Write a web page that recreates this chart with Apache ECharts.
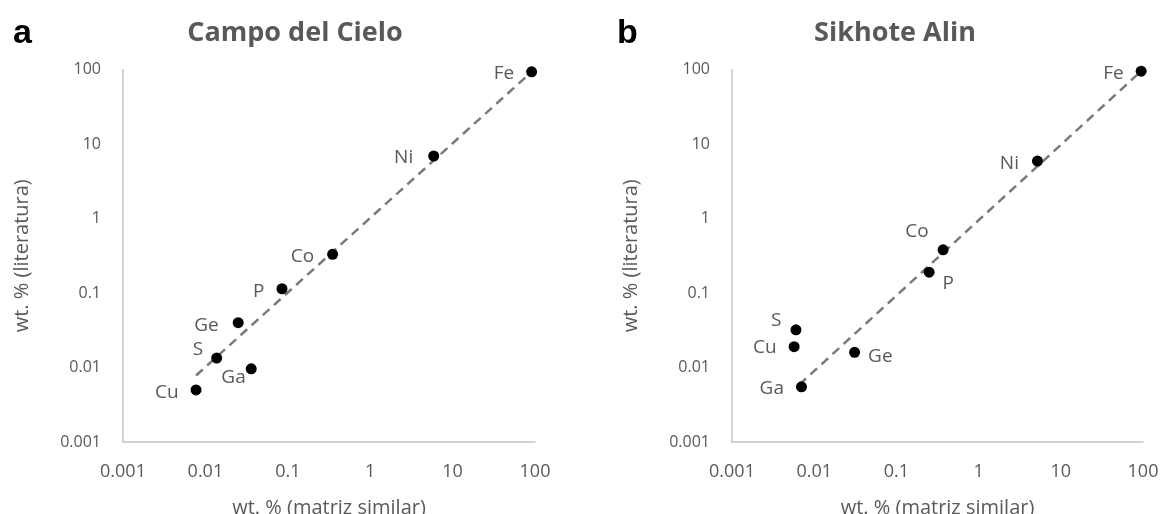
<!DOCTYPE html>
<html>
<head>
<meta charset="utf-8">
<script src="https://cdn.jsdelivr.net/npm/echarts@6/dist/echarts.min.js"></script>
<style>html,body{margin:0;padding:0;background:#fff;}#c{width:1163px;height:514px;}</style>
</head>
<body>
<div id="c"></div>
<script>
// ---- data ----
const elementsA = ['Fe', 'Ni', 'Co', 'P', 'Ge', 'S', 'Ga', 'Cu'];
const matrizA   = [91, 5.9, 0.35, 0.085, 0.025, 0.0137, 0.036, 0.0077];
const literA    = [93, 6.9, 0.33, 0.114, 0.040, 0.0134, 0.0096, 0.0050];
const trendA_x  = [0.0077, 91];
const trendA_y  = [0.0078, 93];

const elementsB = ['Fe', 'Ni', 'Co', 'P', 'S', 'Cu', 'Ge', 'Ga'];
const matrizB   = [95, 5.2, 0.37, 0.25, 0.0060, 0.0057, 0.031, 0.0070];
const literB    = [95, 5.9, 0.38, 0.19, 0.032, 0.019, 0.016, 0.0055];
const trendB_x  = [0.0066, 95];
const trendB_y  = [0.0059, 95];

const tickValues = [0.001, 0.01, 0.1, 1, 10, 100];
const titles = ['Campo del Cielo', 'Sikhote Alin'];
const panelLetters = ['a', 'b'];
const xAxisName = 'wt. % (matriz similar)';
const yAxisName = 'wt. % (literatura)';

// ---- label placement (style) ----
const labelStyleA = {
  Fe: ['left', [-7, 2]], Ni: ['left', [-10, 2]], Co: ['left', [-8, 2]], P: ['left', [-7, 3]],
  Ge: ['left', [-9, 3]], S: ['left', [-3, -8]], Ga: ['left', [5, 9]], Cu: ['left', [-7, 3]]
};
const labelStyleB = {
  Fe: ['left', [-7, 2]], Ni: ['left', [-8, 3]], Co: ['left', [-4, -18]], P: ['right', [3, 11]],
  S: ['left', [-4, -9]], Cu: ['left', [-7, 1]], Ge: ['right', [3, 4]], Ga: ['left', [-7, 2]]
};

const FONT = "'Open Sans', 'Noto Sans', sans-serif";
const GRAY = '#595959';

function fmt(v) {
  for (const t of tickValues) { if (Math.abs(v - t) / t < 1e-6) return String(t); }
  return '';
}

function axisX(gi) {
  return {
    type: 'log', logBase: 10, min: 0.001, max: 100, gridIndex: gi,
    name: xAxisName, nameLocation: 'middle', nameGap: 56,
    nameTextStyle: { color: GRAY, fontFamily: FONT, fontSize: 20 },
    axisLine: { show: true, lineStyle: { color: '#c4c4c4', width: 1.5 } },
    axisTick: { show: false }, splitLine: { show: false }, minorTick: { show: false },
    axisLabel: { color: GRAY, fontFamily: FONT, fontSize: 18, margin: 21, formatter: fmt, showMinLabel: true, showMaxLabel: true }
  };
}
function axisY(gi) {
  return {
    type: 'log', logBase: 10, min: 0.001, max: 100, gridIndex: gi,
    name: yAxisName, nameLocation: 'middle', nameGap: 91, nameRotate: 90,
    nameTextStyle: { color: GRAY, fontFamily: FONT, fontSize: 20 },
    axisLine: { show: true, lineStyle: { color: '#c4c4c4', width: 1.5 } },
    axisTick: { show: false }, splitLine: { show: false },
    axisLabel: { color: GRAY, fontFamily: FONT, fontSize: 16, margin: 22, formatter: fmt, showMinLabel: true, showMaxLabel: true }
  };
}

function scatterSeries(gi, els, xs, ys, ls) {
  return {
    type: 'scatter', xAxisIndex: gi, yAxisIndex: gi, symbol: 'circle', symbolSize: 11,
    itemStyle: { color: '#000', opacity: 1 }, z: 3,
    data: els.map((e, i) => ({
      value: [xs[i], ys[i]], name: e,
      label: { show: true, position: ls[e][0], offset: ls[e][1], distance: 5,
        formatter: e, color: GRAY, fontFamily: FONT, fontSize: 19 }
    }))
  };
}
function trendSeries(gi, xs, ys) {
  return {
    type: 'line', xAxisIndex: gi, yAxisIndex: gi, symbol: 'none', z: 2,
    lineStyle: { color: '#7a7a7a', width: 2.5, type: [9, 6] },
    data: xs.map((x, i) => [x, ys[i]])
  };
}

const chart = echarts.init(document.getElementById('c'));
chart.setOption({
  backgroundColor: '#fff',
  animation: false,
  title: [
    { text: titles[0], left: 290, top: 15, textAlign: 'center',
      textStyle: { color: GRAY, fontFamily: FONT, fontSize: 27, fontWeight: 'bold' } },
    { text: titles[1], left: 890, top: 15, textAlign: 'center',
      textStyle: { color: GRAY, fontFamily: FONT, fontSize: 27, fontWeight: 'bold' } },
    { text: panelLetters[0], left: 8, top: 12,
      textStyle: { color: '#000', fontFamily: 'Liberation Sans, Arial, sans-serif', fontSize: 34, fontWeight: 'bold' } },
    { text: panelLetters[1], left: 612, top: 12,
      textStyle: { color: '#000', fontFamily: 'Liberation Sans, Arial, sans-serif', fontSize: 34, fontWeight: 'bold' } }
  ],
  grid: [
    { left: 123, right: 1163 - 535, top: 69.5, bottom: 72, outerBoundsMode: 'none', containLabel: false },
    { left: 732, right: 20, top: 69.5, bottom: 72, outerBoundsMode: 'none', containLabel: false }
  ],
  xAxis: [axisX(0), axisX(1)],
  yAxis: [axisY(0), axisY(1)],
  series: [
    trendSeries(0, trendA_x, trendA_y),
    scatterSeries(0, elementsA, matrizA, literA, labelStyleA),
    trendSeries(1, trendB_x, trendB_y),
    scatterSeries(1, elementsB, matrizB, literB, labelStyleB)
  ]
});
</script>
</body>
</html>
